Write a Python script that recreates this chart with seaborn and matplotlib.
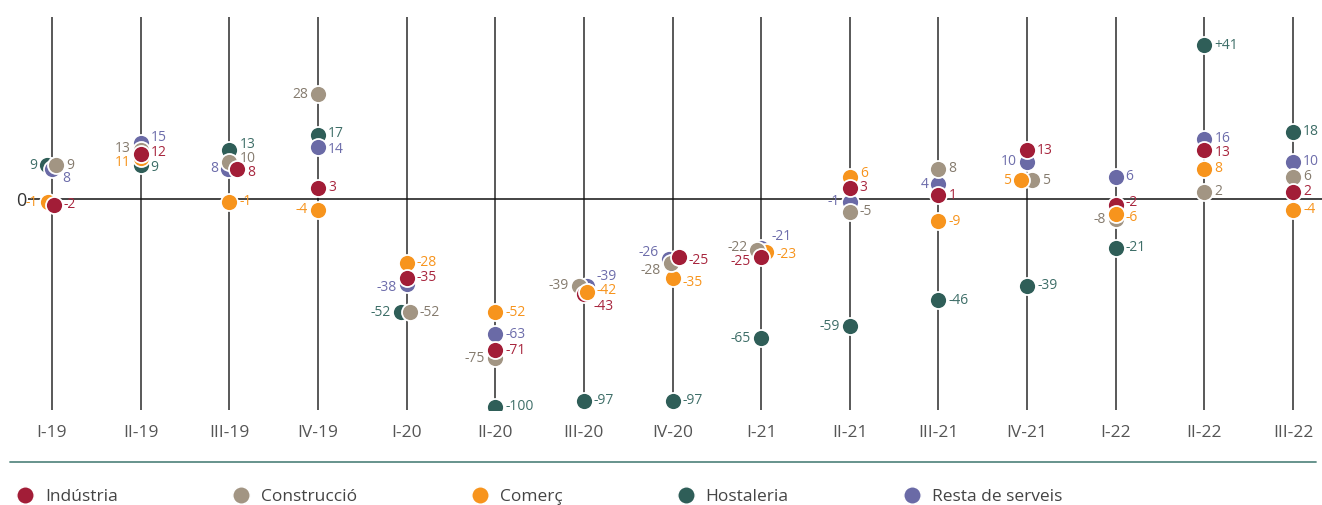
import numpy as np
import pandas as pd
import matplotlib
matplotlib.use("Agg")
import matplotlib.pyplot as plt
from matplotlib.lines import Line2D
import seaborn as sns

# Quarterly balance by sector
periods = ["I-19", "II-19", "III-19", "IV-19", "I-20", "II-20", "III-20", "IV-20",
           "I-21", "II-21", "III-21", "IV-21", "I-22", "II-22", "III-22"]
industria = [-2, 12, 8, 3, -35, -71, -43, -25, -25, 3, 1, 13, -2, 13, 2]
construccio = [9, 13, 10, 28, -52, -75, -39, -28, -22, -5, 8, 5, -8, 2, 6]
comerc = [-1, 11, -1, -4, -28, -52, -42, -35, -23, 6, -9, 5, -6, 8, -4]
hostaleria = [9, 9, 13, 17, -52, -100, -97, -97, -65, -59, -46, -39, -21, 41, 18]
resta = [8, 15, 8, 14, -38, -63, -39, -26, -21, -1, 4, 10, 6, 16, 10]

series = {
    "Indústria": industria,
    "Construcció": construccio,
    "Comerç": comerc,
    "Hostaleria": hostaleria,
    "Resta de serveis": resta,
}

dot_colors = {
    "Indústria": "#a21d37",
    "Construcció": "#a29583",
    "Comerç": "#f7941d",
    "Hostaleria": "#2f5e58",
    "Resta de serveis": "#6a6aa6",
}
text_colors = {
    "Indústria": "#a8263e",
    "Construcció": "#857b6e",
    "Comerç": "#f7941d",
    "Hostaleria": "#3e6e68",
    "Resta de serveis": "#6d6dab",
}

# stacking of the dots, bottom to top
draw_order = ["Hostaleria", "Resta de serveis", "Comerç", "Construcció", "Indústria"]
raised = {("Comerç", "III-20"), ("Comerç", "IV-21"), ("Comerç", "I-22")}

# small sideways dodge (pixels) for dots that sit on top of each other
dodge_px = {
    ("Hostaleria", "I-19"): -5, ("Construcció", "I-19"): 4,
    ("Comerç", "I-19"): -4, ("Indústria", "I-19"): 2,
    ("Indústria", "III-19"): 8, ("Resta de serveis", "III-19"): -1,
    ("Hostaleria", "I-20"): -6, ("Construcció", "I-20"): 3,
    ("Construcció", "III-20"): -5, ("Comerç", "III-20"): 3, ("Resta de serveis", "III-20"): 3,
    ("Resta de serveis", "IV-20"): -4, ("Indústria", "IV-20"): 6, ("Construcció", "IV-20"): -2,
    ("Construcció", "I-21"): -4, ("Comerç", "I-21"): 5,
    ("Comerç", "IV-21"): -6, ("Construcció", "IV-21"): 5,
}

# value label placement: side and vertical shift in pixels (down is positive)
label_place = {
    ("Hostaleria", "I-19"): ("l", 0), ("Resta de serveis", "I-19"): ("r", 10),
    ("Comerç", "I-19"): ("l", 1),
    ("Resta de serveis", "II-19"): ("r", -5), ("Construcció", "II-19"): ("l", -2),
    ("Comerç", "II-19"): ("l", 5), ("Indústria", "II-19"): ("r", -2),
    ("Hostaleria", "II-19"): ("r", 2),
    ("Hostaleria", "III-19"): ("r", -6), ("Construcció", "III-19"): ("r", -3),
    ("Indústria", "III-19"): ("r", 3), ("Resta de serveis", "III-19"): ("l", 0),
    ("Construcció", "IV-19"): ("l", 0), ("Comerç", "IV-19"): ("l", 0),
    ("Hostaleria", "IV-19"): ("r", -2), ("Resta de serveis", "IV-19"): ("r", 3),
    ("Resta de serveis", "I-20"): ("l", 4), ("Hostaleria", "I-20"): ("l", 0),
    ("Construcció", "II-20"): ("l", 0),
    ("Resta de serveis", "III-20"): ("r", -9), ("Construcció", "III-20"): ("l", 0),
    ("Comerç", "III-20"): ("r", -2), ("Indústria", "III-20"): ("r", 12),
    ("Resta de serveis", "IV-20"): ("l", -6), ("Indústria", "IV-20"): ("r", 4),
    ("Construcció", "IV-20"): ("l", 8), ("Comerç", "IV-20"): ("r", 5),
    ("Resta de serveis", "I-21"): ("r", -11), ("Construcció", "I-21"): ("l", -3),
    ("Comerç", "I-21"): ("r", 2), ("Indústria", "I-21"): ("l", 5),
    ("Hostaleria", "I-21"): ("l", 0),
    ("Resta de serveis", "II-21"): ("l", 0), ("Hostaleria", "II-21"): ("l", 0),
    ("Comerç", "II-21"): ("r", -3),
    ("Resta de serveis", "III-21"): ("l", 0),
    ("Resta de serveis", "IV-21"): ("l", 0), ("Comerç", "IV-21"): ("l", 0),
    ("Construcció", "I-22"): ("l", 0), ("Indústria", "I-22"): ("r", -2),
    ("Comerç", "I-22"): ("r", 3),
    ("Resta de serveis", "II-22"): ("r", -1), ("Indústria", "II-22"): ("r", 2),
}
label_text = {("Hostaleria", "II-22"): "+41"}

# figure geometry (pixels)
W, H = 1322, 505
ax_left, ax_right, ax_top, ax_bottom = 28, 1322, 17, 410
first_x, last_x = 52, 1293
px_per_cat = (last_x - first_x) / (len(periods) - 1)

sns.set_theme(style="white")
plt.rcParams["font.family"] = ["Open Sans", "DejaVu Sans"]

fig = plt.figure(figsize=(W / 100, H / 100), dpi=100)
ax = fig.add_axes([ax_left / W, 1 - ax_bottom / H,
                   (ax_right - ax_left) / W, (ax_bottom - ax_top) / H])


# the positive side is stretched more than the negative one
def fwd(y):
    y = np.asarray(y, dtype=float)
    return np.where(y >= 0, 3.75 * y, -2.92 * np.abs(y) ** 0.926)


def inv(t):
    t = np.asarray(t, dtype=float)
    return np.where(t >= 0, t / 3.75, -(np.abs(t) / 2.92) ** (1 / 0.926))


ax.set_yscale("function", functions=(fwd, inv))

rows = []
for name, vals in series.items():
    for i, (p, v) in enumerate(zip(periods, vals)):
        rows.append({"serie": name, "period": p, "valor": v,
                     "x": i + dodge_px.get((name, p), 0) / px_per_cat,
                     "raised": (name, p) in raised})
df = pd.DataFrame(rows)

for z, name in enumerate(draw_order):
    sub = df[df["serie"] == name]
    sns.scatterplot(data=sub, x="x", y="valor", color=dot_colors[name], s=150,
                    edgecolor="white", linewidth=1.3, zorder=3 + z, ax=ax, legend=False)
top = df[df["raised"]]
for name, sub in top.groupby("serie"):
    sns.scatterplot(data=sub, x="x", y="valor", color=dot_colors[name], s=150,
                    edgecolor="white", linewidth=1.3, zorder=10, ax=ax, legend=False)

for _, r in df.iterrows():
    key = (r["serie"], r["period"])
    side, dy = label_place.get(key, ("r", 0))
    txt = label_text.get(key, f"{r['valor']:d}")
    ax.annotate(txt, (r["x"], r["valor"]), xytext=(10 if side == "r" else -10, -dy),
                textcoords="offset pixels", ha="left" if side == "r" else "right",
                va="center", fontsize=10, color=text_colors[r["serie"]], zorder=2)

x0 = -(first_x - ax_left) / px_per_cat
x1 = (ax_right - first_x) / px_per_cat
ax.set_xlim(x0, x1)
t_top = 199 - ax_top
t_bot = -(ax_bottom - 199)
ax.set_ylim(float(inv(t_bot)), float(inv(t_top)))

ax.set_xticks(range(len(periods)), periods)
ax.set_yticks([0], ["0"])
ax.set_xlabel("")
ax.set_ylabel("")
ax.tick_params(axis="x", length=0, pad=11, labelsize=12.5, labelcolor="#555555")
ax.tick_params(axis="y", length=0, pad=1, labelsize=13, labelcolor="#333333")
ax.set_axisbelow(True)
ax.grid(axis="x", color="#2b2b2b", linewidth=1.1)
ax.grid(axis="y", visible=False)
ax.axhline(0, color="#111111", linewidth=1.1, zorder=1)
for s in ax.spines.values():
    s.set_visible(False)

# separator above the legend
fig.add_artist(Line2D([10 / W, 1316 / W], [1 - 462 / H] * 2, color="#5a8a84",
                      linewidth=1.3, transform=fig.transFigure))

handles = [Line2D([], [], marker="o", linestyle="", markersize=12.5,
                  markerfacecolor=dot_colors[n], markeredgecolor="white",
                  markeredgewidth=1, label=n) for n in series]
fig.legend(handles=handles, ncol=5, loc="center left",
           bbox_to_anchor=(16.7 / W, 1 - 497 / H), frameon=False, fontsize=12.5,
           handlelength=1.0, handletextpad=0.62, columnspacing=6.62, borderpad=0,
           borderaxespad=0, labelcolor="#444444")

fig.savefig("out.png", dpi=100)
